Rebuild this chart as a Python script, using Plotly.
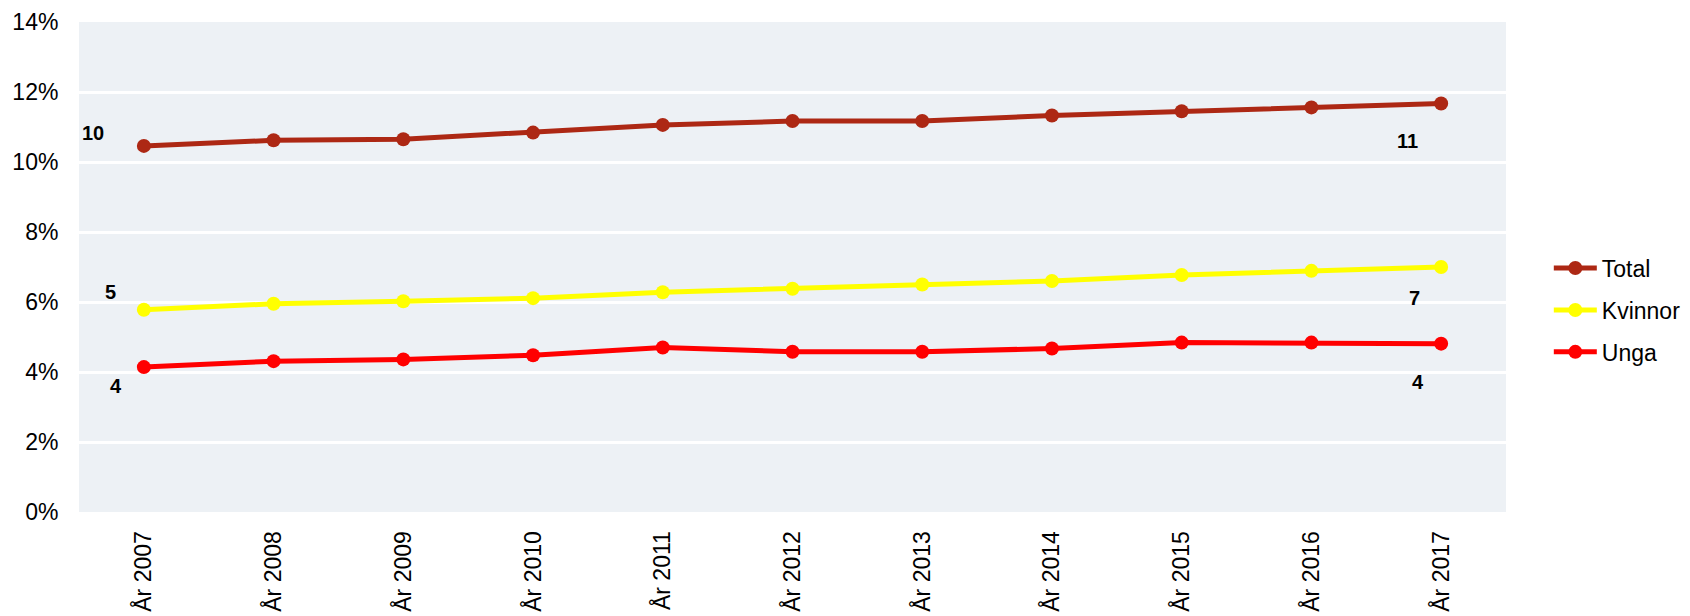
import plotly.graph_objects as go

years = ["År 2007", "År 2008", "År 2009", "År 2010", "År 2011", "År 2012",
         "År 2013", "År 2014", "År 2015", "År 2016", "År 2017"]
total = [10.46, 10.62, 10.65, 10.84, 11.06, 11.17, 11.17, 11.33, 11.45, 11.56, 11.67]
kvinnor = [5.78, 5.95, 6.02, 6.11, 6.28, 6.38, 6.50, 6.60, 6.77, 6.89, 7.00]
unga = [4.14, 4.31, 4.36, 4.48, 4.70, 4.58, 4.58, 4.67, 4.84, 4.84, 4.81]
series_names = ["Total", "Kvinnor", "Unga"]
colors = ["#AD2814", "#FFFF00", "#FF0000"]
# end-point labels (first, last) per series
end_labels = {"Total": ("10", "11"), "Kvinnor": ("5", "7"), "Unga": ("4", "4")}
yticks = [0, 2, 4, 6, 8, 10, 12, 14]
ytick_text = [f"{v}%" for v in yticks]

FONT = "Liberation Sans, Arial, sans-serif"

fig = go.Figure()
data = [total, kvinnor, unga]
for name, vals, col in zip(series_names, data, colors):
    fig.add_trace(go.Scatter(
        x=years, y=vals, name=name, mode="lines+markers", legendgroup=name,
        line=dict(color=col, width=5),
        marker=dict(color=col, size=14),
    ))

# label offsets (px) relative to first / last points
offsets = {
    "Total": ((-51, 13), (-34, -37)),
    "Kvinnor": ((-33, 18), (-27, -31)),
    "Unga": ((-28, -19), (-23, -38)),
}
for name, vals in zip(series_names, data):
    (fx, fy), (lx, ly) = offsets[name]
    first, last = end_labels[name]
    fig.add_annotation(x=years[0], y=vals[0], text=f"<b>{first}</b>", showarrow=False,
                       xshift=fx, yshift=fy, font=dict(family=FONT, size=20, color="#000"))
    fig.add_annotation(x=years[-1], y=vals[-1], text=f"<b>{last}</b>", showarrow=False,
                       xshift=lx, yshift=ly, font=dict(family=FONT, size=20, color="#000"))

# page body adds an 8px offset, so the figure is 8px smaller and margins compensate
fig.update_layout(
    width=1682, height=608,
    margin=dict(l=71, r=184, t=14, b=104, autoexpand=False),
    paper_bgcolor="white",
    plot_bgcolor="#EDF1F5",
    font=dict(family=FONT, size=23, color="#000"),
    showlegend=True,
    legend=dict(x=1.03, y=0.412, yanchor="middle", xanchor="left",
                font=dict(family=FONT, size=23), bgcolor="rgba(0,0,0,0)",
                tracegroupgap=9, traceorder="grouped", itemwidth=43),
    xaxis=dict(type="category", range=[-0.5, 10.5], tickangle=-90,
               showgrid=False, zeroline=False, showline=False, automargin=False,
               ticks="outside", ticklen=9, tickcolor="rgba(0,0,0,0)",
               tickfont=dict(family=FONT, size=23)),
    yaxis=dict(range=[0, 14], tickvals=yticks, ticktext=ytick_text,
               showgrid=True, gridcolor="white", gridwidth=3,
               zeroline=False, showline=False, automargin=False,
               ticks="outside", ticklen=15, tickcolor="rgba(0,0,0,0)",
               tickfont=dict(family=FONT, size=23)),
)

fig.write_html("out.html")
